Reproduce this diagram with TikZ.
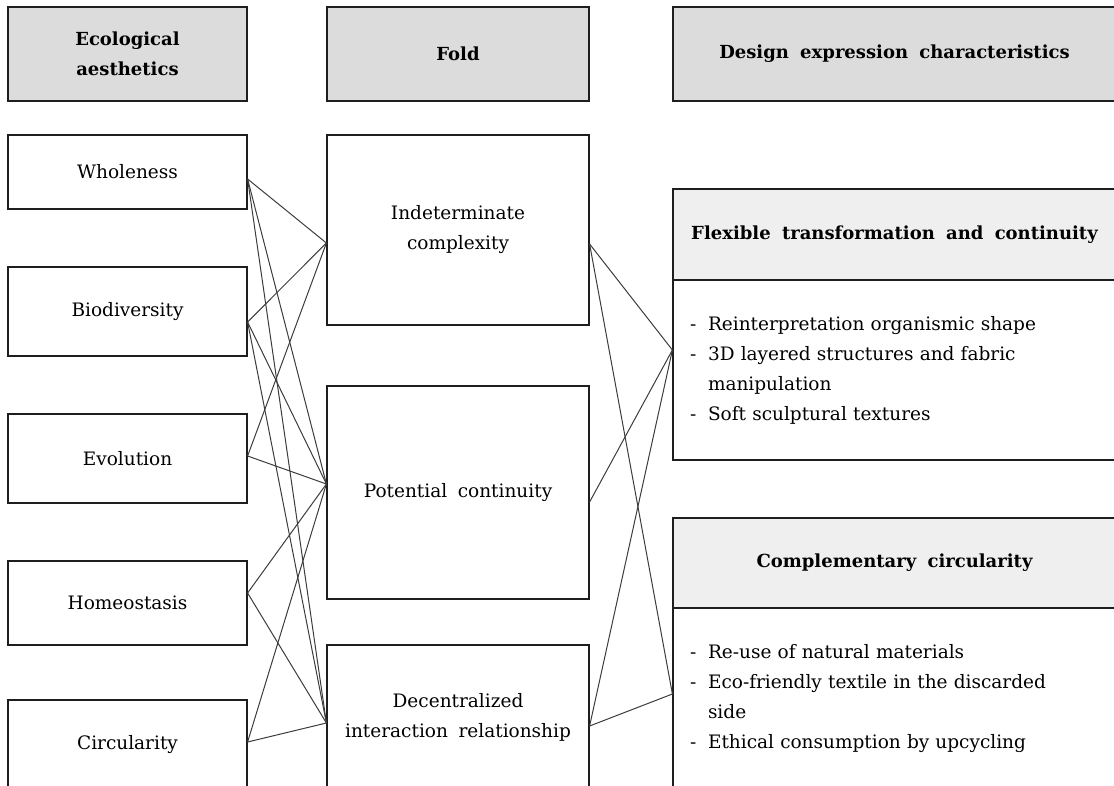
\documentclass[tikz,border=0pt]{standalone}
\usepackage{fontspec}
\setmainfont{DejaVu Serif}[WordSpace=1.8]
\definecolor{hdrgray}{HTML}{DCDCDC}
\definecolor{subgray}{HTML}{EFEFEF}
\definecolor{edgec}{HTML}{1E1E1E}
\definecolor{linkc}{HTML}{3C3C3C}
\begin{document}
\begin{tikzpicture}[x=1pt,y=-1pt,
  box/.style={draw=edgec, line width=1.2pt, rectangle, inner sep=0pt, align=center,
    font=\fontsize{18.5}{30}\selectfont},
  hdr/.style={box, fill=hdrgray, font=\bfseries\fontsize{18}{30}\selectfont},
  subhdr/.style={box, fill=subgray, font=\bfseries\fontsize{18}{30}\selectfont},
  body/.style={box, align=left, inner xsep=17pt, text width=409pt, minimum width=443pt},
  link/.style={draw=linkc, line width=1pt}]
\useasboundingbox (0,0) rectangle (1114,786);
% headers
\node[hdr, minimum width=239pt, minimum height=94pt] (h1) at (127.5,54) {Ecological\\aesthetics};
\node[hdr, minimum width=262pt, minimum height=94pt] (h2) at (458,54) {Fold};
\node[hdr, minimum width=443pt, minimum height=94pt] (h3) at (894.5,54) {Design expression characteristics};
% left column
\node[box, minimum width=239pt, minimum height=74pt] (w) at (127.5,172) {Wholeness};
\node[box, minimum width=239pt, minimum height=89pt] (b) at (127.5,311.5) {Biodiversity};
\node[box, minimum width=239pt, minimum height=89pt] (e) at (127.5,458.5) {Evolution};
\node[box, minimum width=239pt, minimum height=84pt] (ho) at (127.5,603) {Homeostasis};
\node[box, minimum width=239pt, minimum height=90pt] (c) at (127.5,745) {Circularity};
% middle column
\node[box, minimum width=262pt, minimum height=190pt] (i) at (458,230) {Indeterminate\\complexity};
\node[box, minimum width=262pt, minimum height=213pt] (p) at (458,492.5) {Potential continuity};
\node[box, minimum width=262pt, minimum height=145pt] (d) at (458,717.5) {Decentralized\\interaction relationship};
% right column
\node[subhdr, minimum width=443pt, minimum height=91pt] (fh) at (894.5,234.5) {Flexible transformation and continuity};
\node[body, minimum height=180pt] (fb) at (894.5,370)
  {\makebox[18pt][l]{-}Reinterpretation organismic shape\\
   \makebox[18pt][l]{-}3D layered structures and fabric\\
   \hspace*{18pt}manipulation\\
   \makebox[18pt][l]{-}Soft sculptural textures};
\node[subhdr, minimum width=443pt, minimum height=90pt] (ch) at (894.5,563) {Complementary circularity};
\node[body, minimum height=182pt] (cb) at (894.5,699)
  {\makebox[18pt][l]{-}Re-use of natural materials\\
   \makebox[18pt][l]{-}Eco-friendly textile in the discarded\\
   \hspace*{18pt}side\\
   \makebox[18pt][l]{-}Ethical consumption by upcycling};
% connection points
\coordinate (wR) at ([yshift=-7pt]w.east);
\coordinate (bR) at ([yshift=-10.5pt]b.east);
\coordinate (eR) at ([yshift=2.5pt]e.east);
\coordinate (hoR) at ([yshift=10pt]ho.east);
\coordinate (cR) at ([yshift=3pt]c.east);
\coordinate (iL) at ([yshift=-13pt]i.west);
\coordinate (pL) at ([yshift=8.5pt]p.west);
\coordinate (dL) at ([yshift=-5.5pt]d.west);
\coordinate (iR) at ([yshift=-14pt]i.east);
\coordinate (pR) at ([yshift=-9.5pt]p.east);
\coordinate (dR) at ([yshift=-8.5pt]d.east);
\coordinate (fL) at ([yshift=20pt]fb.west);
\coordinate (cL) at ([yshift=5pt]cb.west);
% links left -> middle
\draw[link] (wR) -- (iL);
\draw[link] (wR) -- (pL);
\draw[link] (wR) -- (dL);
\draw[link] (bR) -- (iL);
\draw[link] (bR) -- (pL);
\draw[link] (bR) -- (dL);
\draw[link] (eR) -- (iL);
\draw[link] (eR) -- (pL);
\draw[link] (hoR) -- (pL);
\draw[link] (hoR) -- (dL);
\draw[link] (cR) -- (pL);
\draw[link] (cR) -- (dL);
% links middle -> right
\draw[link] (iR) -- (fL);
\draw[link] (iR) -- (cL);
\draw[link] (pR) -- (fL);
\draw[link] (dR) -- (fL);
\draw[link] (dR) -- (cL);
\end{tikzpicture}
\end{document}
